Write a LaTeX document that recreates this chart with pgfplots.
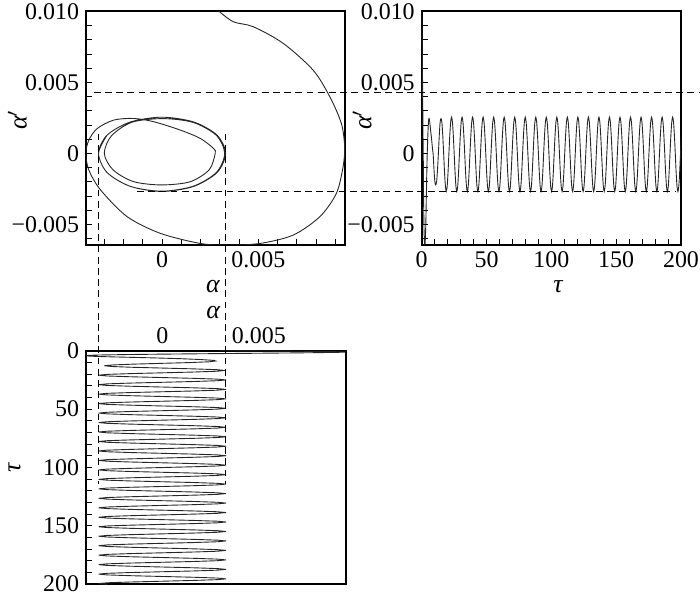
\documentclass[border=0pt]{standalone}
\usepackage{fontspec}
\setmainfont{Liberation Serif}
\usepackage{pgfplots}
\usepackage{pgfplotstable}
\pgfplotsset{compat=1.18}
% t = tau, a = alpha (x 10^-3), ad = alpha' (x 10^-3)
\pgfplotstableread{
t a ad
0.00 2.93 10.04
0.08 3.70 9.27
0.19 4.74 8.92
0.37 6.29 7.75
0.59 7.84 5.87
0.76 8.71 3.99
0.94 9.31 2.11
1.10 9.48 0.47
1.28 9.40 -0.94
1.42 9.05 -2.82
1.64 8.19 -4.46
1.90 6.81 -5.75
2.16 5.09 -6.34
2.42 3.36 -6.46
2.63 1.98 -6.34
2.96 -0.09 -5.63
3.29 -1.81 -4.46
3.66 -3.19 -2.58
3.97 -3.80 -1.18
4.26 -3.96 0.00
4.62 -3.80 0.94
4.94 -3.36 1.76
5.34 -2.50 2.35
5.75 -1.47 2.46
6.17 -0.43 2.23
6.85 0.95 1.64
7.57 1.98 1.06
8.30 2.67 0.35
8.81 2.76 0.00
9.49 2.45 -1.15
10.16 1.45 -2.00
10.84 -0.05 -2.22
11.52 -1.50 -1.98
12.19 -2.55 -1.15
12.87 -3.00 0.00
13.55 -2.62 1.25
14.22 -1.55 2.20
14.90 0.05 2.45
15.58 1.62 2.18
16.25 2.82 1.27
16.93 3.25 0.00
17.61 2.83 -1.33
18.28 1.64 -2.30
18.96 0.00 -2.66
19.64 -1.65 -2.32
20.31 -2.86 -1.34
20.99 -3.30 0.00
21.67 -2.86 1.28
22.34 -1.65 2.21
23.02 0.00 2.55
23.70 1.65 2.21
24.37 2.86 1.28
25.05 3.30 0.00
25.73 2.86 -1.34
26.40 1.65 -2.32
27.08 0.00 -2.68
27.76 -1.65 -2.32
28.43 -2.86 -1.34
29.11 -3.30 0.00
29.79 -2.86 1.28
30.46 -1.65 2.21
31.14 0.00 2.55
31.82 1.65 2.21
32.49 2.86 1.28
33.17 3.30 0.00
33.85 2.86 -1.34
34.52 1.65 -2.32
35.20 0.00 -2.68
35.88 -1.65 -2.32
36.55 -2.86 -1.34
37.23 -3.30 0.00
37.91 -2.86 1.28
38.58 -1.65 2.21
39.26 0.00 2.55
39.94 1.65 2.21
40.61 2.86 1.28
41.29 3.30 0.00
41.97 2.86 -1.34
42.64 1.65 -2.32
43.32 0.00 -2.68
44.00 -1.65 -2.32
44.67 -2.86 -1.34
45.35 -3.30 0.00
46.03 -2.86 1.28
46.70 -1.65 2.21
47.38 0.00 2.55
48.06 1.65 2.21
48.73 2.86 1.28
49.41 3.30 0.00
50.09 2.86 -1.34
50.76 1.65 -2.32
51.44 0.00 -2.68
52.12 -1.65 -2.32
52.79 -2.86 -1.34
53.47 -3.30 0.00
54.15 -2.86 1.28
54.82 -1.65 2.21
55.50 0.00 2.55
56.18 1.65 2.21
56.85 2.86 1.28
57.53 3.30 0.00
58.21 2.86 -1.34
58.88 1.65 -2.32
59.56 0.00 -2.68
60.24 -1.65 -2.32
60.91 -2.86 -1.34
61.59 -3.30 0.00
62.27 -2.86 1.28
62.94 -1.65 2.21
63.62 0.00 2.55
64.30 1.65 2.21
64.97 2.86 1.28
65.65 3.30 0.00
66.33 2.86 -1.34
67.00 1.65 -2.32
67.68 0.00 -2.68
68.36 -1.65 -2.32
69.03 -2.86 -1.34
69.71 -3.30 0.00
70.39 -2.86 1.28
71.06 -1.65 2.21
71.74 0.00 2.55
72.42 1.65 2.21
73.09 2.86 1.28
73.77 3.30 0.00
74.45 2.86 -1.34
75.12 1.65 -2.32
75.80 0.00 -2.68
76.48 -1.65 -2.32
77.15 -2.86 -1.34
77.83 -3.30 0.00
78.51 -2.86 1.28
79.18 -1.65 2.21
79.86 0.00 2.55
80.54 1.65 2.21
81.21 2.86 1.28
81.89 3.30 0.00
82.57 2.86 -1.34
83.24 1.65 -2.32
83.92 0.00 -2.68
84.60 -1.65 -2.32
85.27 -2.86 -1.34
85.95 -3.30 0.00
86.63 -2.86 1.28
87.30 -1.65 2.21
87.98 0.00 2.55
88.66 1.65 2.21
89.33 2.86 1.28
90.01 3.30 0.00
90.69 2.86 -1.34
91.36 1.65 -2.32
92.04 0.00 -2.68
92.72 -1.65 -2.32
93.39 -2.86 -1.34
94.07 -3.30 0.00
94.75 -2.86 1.28
95.42 -1.65 2.21
96.10 0.00 2.55
96.78 1.65 2.21
97.45 2.86 1.28
98.13 3.30 0.00
98.81 2.86 -1.34
99.48 1.65 -2.32
100.16 0.00 -2.68
100.84 -1.65 -2.32
101.51 -2.86 -1.34
102.19 -3.30 0.00
102.87 -2.86 1.28
103.54 -1.65 2.21
104.22 0.00 2.55
104.90 1.65 2.21
105.57 2.86 1.28
106.25 3.30 0.00
106.93 2.86 -1.34
107.60 1.65 -2.32
108.28 0.00 -2.68
108.96 -1.65 -2.32
109.63 -2.86 -1.34
110.31 -3.30 0.00
110.99 -2.86 1.28
111.66 -1.65 2.21
112.34 0.00 2.55
113.02 1.65 2.21
113.69 2.86 1.28
114.37 3.30 0.00
115.05 2.86 -1.34
115.72 1.65 -2.32
116.40 0.00 -2.68
117.08 -1.65 -2.32
117.75 -2.86 -1.34
118.43 -3.30 0.00
119.11 -2.86 1.28
119.78 -1.65 2.21
120.46 0.00 2.55
121.14 1.65 2.21
121.81 2.86 1.28
122.49 3.30 0.00
123.17 2.86 -1.34
123.84 1.65 -2.32
124.52 0.00 -2.68
125.20 -1.65 -2.32
125.87 -2.86 -1.34
126.56 -3.30 0.00
127.24 -2.86 1.28
127.91 -1.65 2.21
128.59 0.00 2.55
129.27 1.65 2.21
129.94 2.86 1.28
130.62 3.30 0.00
131.30 2.86 -1.34
131.97 1.65 -2.32
132.65 0.00 -2.68
133.33 -1.65 -2.32
134.00 -2.86 -1.34
134.68 -3.30 0.00
135.36 -2.86 1.28
136.03 -1.65 2.21
136.71 0.00 2.55
137.39 1.65 2.21
138.06 2.86 1.28
138.74 3.30 0.00
139.42 2.86 -1.34
140.09 1.65 -2.32
140.77 0.00 -2.68
141.45 -1.65 -2.32
142.12 -2.86 -1.34
142.80 -3.30 0.00
143.48 -2.86 1.28
144.15 -1.65 2.21
144.83 0.00 2.55
145.51 1.65 2.21
146.18 2.86 1.28
146.86 3.30 0.00
147.54 2.86 -1.34
148.21 1.65 -2.32
148.89 0.00 -2.68
149.57 -1.65 -2.32
150.24 -2.86 -1.34
150.92 -3.30 0.00
151.60 -2.86 1.28
152.27 -1.65 2.21
152.95 0.00 2.55
153.63 1.65 2.21
154.30 2.86 1.28
154.98 3.30 0.00
155.66 2.86 -1.34
156.33 1.65 -2.32
157.01 0.00 -2.68
157.69 -1.65 -2.32
158.36 -2.86 -1.34
159.04 -3.30 0.00
159.72 -2.86 1.28
160.39 -1.65 2.21
161.07 0.00 2.55
161.75 1.65 2.21
162.42 2.86 1.28
163.10 3.30 0.00
163.78 2.86 -1.34
164.45 1.65 -2.32
165.13 0.00 -2.68
165.81 -1.65 -2.32
166.48 -2.86 -1.34
167.16 -3.30 0.00
167.84 -2.86 1.28
168.51 -1.65 2.21
169.19 0.00 2.55
169.87 1.65 2.21
170.54 2.86 1.28
171.22 3.30 0.00
171.90 2.86 -1.34
172.57 1.65 -2.32
173.25 0.00 -2.68
173.93 -1.65 -2.32
174.60 -2.86 -1.34
175.28 -3.30 0.00
175.96 -2.86 1.28
176.63 -1.65 2.21
177.31 0.00 2.55
177.99 1.65 2.21
178.66 2.86 1.28
179.34 3.30 0.00
180.02 2.86 -1.34
180.69 1.65 -2.32
181.37 0.00 -2.68
182.05 -1.65 -2.32
182.72 -2.86 -1.34
183.40 -3.30 0.00
184.08 -2.86 1.28
184.75 -1.65 2.21
185.43 0.00 2.55
186.11 1.65 2.21
186.78 2.86 1.28
187.46 3.30 0.00
188.14 2.86 -1.34
188.81 1.65 -2.32
189.49 0.00 -2.68
190.17 -1.65 -2.32
190.84 -2.86 -1.34
191.52 -3.30 0.00
192.20 -2.86 1.28
192.87 -1.65 2.21
193.55 0.00 2.55
194.23 1.65 2.21
194.90 2.86 1.28
195.58 3.30 0.00
196.26 2.86 -1.34
196.93 1.65 -2.32
197.61 0.00 -2.68
198.29 -1.65 -2.32
198.96 -2.86 -1.34
199.64 -3.30 0.00
200.32 -2.86 1.28
}\traj
\begin{document}
\begin{tikzpicture}
\pgfplotsset{
  myax/.style={
    scale only axis,
    axis line style={line width=0.9pt},
    every tick/.style={black, line width=0.5pt},
    tick align=inside,
    major tick length=3bp, minor tick length=3bp,
    font=\fontsize{12}{14}\selectfont,
    /pgf/number format/assume math mode=true,
    label style={font=\fontsize{13}{15}\selectfont, inner sep=0pt},
  },
  curve/.style={black!85, line width=0.45pt},
}
\tikzset{guide/.style={black, line width=0.7pt, dash pattern=on 3.4bp off 2.2bp}}
\path[use as bounding box] (0,0) rectangle (350bp,298bp);
\coordinate (R) at (350.5bp,0);

% ---- top-left: phase portrait
\begin{axis}[myax, at={(43bp,175.5bp)}, anchor=south west,
  width=129.5bp, height=117.15bp,
  xmin=-3.95, xmax=9.5, ymin=-6.45, ymax=10.05,
  xtick={0,5}, xticklabels={0,0.005},
  minor xtick={-3,-2,-1,1,2,3,4,6,7,8,9},
  ytick={-5,0,5,10}, yticklabels={−0.005,0,0.005,0.010},
  minor ytick={-6,-4,-3,-2,-1,1,2,3,4,6,7,8,9},
  tick pos=left,
  xlabel={\itshape α}, ylabel={{\itshape α}$'$},
  xlabel style={at={(axis description cs:0.49,-0.179)}, anchor=center},
  ylabel style={at={(axis description cs:-0.265,0.534)}, anchor=center},
]
\addplot[curve, smooth] table[x=a, y=ad] {\traj};
\coordinate (h1) at (axis cs:-3.55,4.3);
\coordinate (h2) at (axis cs:-1.3,-2.7);
\coordinate (v1) at (axis cs:-3.3,1.4);
\coordinate (v2) at (axis cs:3.3,1.4);
\end{axis}

% ---- top-right: alpha' vs tau
\begin{axis}[myax, at={(210.85bp,175.5bp)}, anchor=south west,
  width=129.65bp, height=117.15bp,
  xmin=0, xmax=200, ymin=-6.45, ymax=10.05,
  xtick={0,50,100,150,200},
  minor xtick={10,20,30,40,60,70,80,90,110,120,130,140,160,170,180,190},
  ytick={-5,0,5,10}, yticklabels={−0.005,0,0.005,0.010},
  minor ytick={-6,-4,-3,-2,-1,1,2,3,4,6,7,8,9},
  tick pos=left,
  xlabel={\itshape τ}, ylabel={{\itshape α}$'$},
  xlabel style={at={(axis description cs:0.526,-0.179)}, anchor=center},
  ylabel style={at={(axis description cs:-0.23,0.534)}, anchor=center},
]
\addplot[curve, smooth] table[x=t, y=ad] {\traj};
\coordinate (h2end) at (axis cs:195.6,-2.7);
\end{axis}

% ---- bottom: tau vs alpha
\begin{axis}[myax, at={(43bp,6bp)}, anchor=south west,
  width=129.85bp, height=116.65bp,
  xmin=-3.95, xmax=9.5, ymin=0, ymax=200, y dir=reverse,
  xtick={0,5}, xticklabels={0,0.005},
  xtick pos=right, xticklabel pos=right,
  x tick style={draw=none},
  ytick={0,50,100,150,200},
  minor ytick={10,20,30,40,60,70,80,90,110,120,130,140,160,170,180,190},
  ytick pos=left,
  xlabel={\itshape α}, ylabel={\itshape τ},
  xlabel style={at={(axis description cs:0.49,1.162)}, anchor=center},
  ylabel style={at={(axis description cs:-0.275,0.497)}, anchor=center},
]
\addplot[curve] table[x=a, y=t] {\traj};
\coordinate (v1end) at (axis cs:-3.3,114);
\coordinate (v2end) at (axis cs:3.3,114);
\end{axis}

% ---- dashed guide lines
\draw[guide] (h1) -- (h1 -| R);
\draw[guide] (h2) -- (h2 -| h2end);
\draw[guide] (v1) -- (v1 |- v1end);
\draw[guide] (v2) -- (v2 |- v2end);
\end{tikzpicture}
\end{document}
